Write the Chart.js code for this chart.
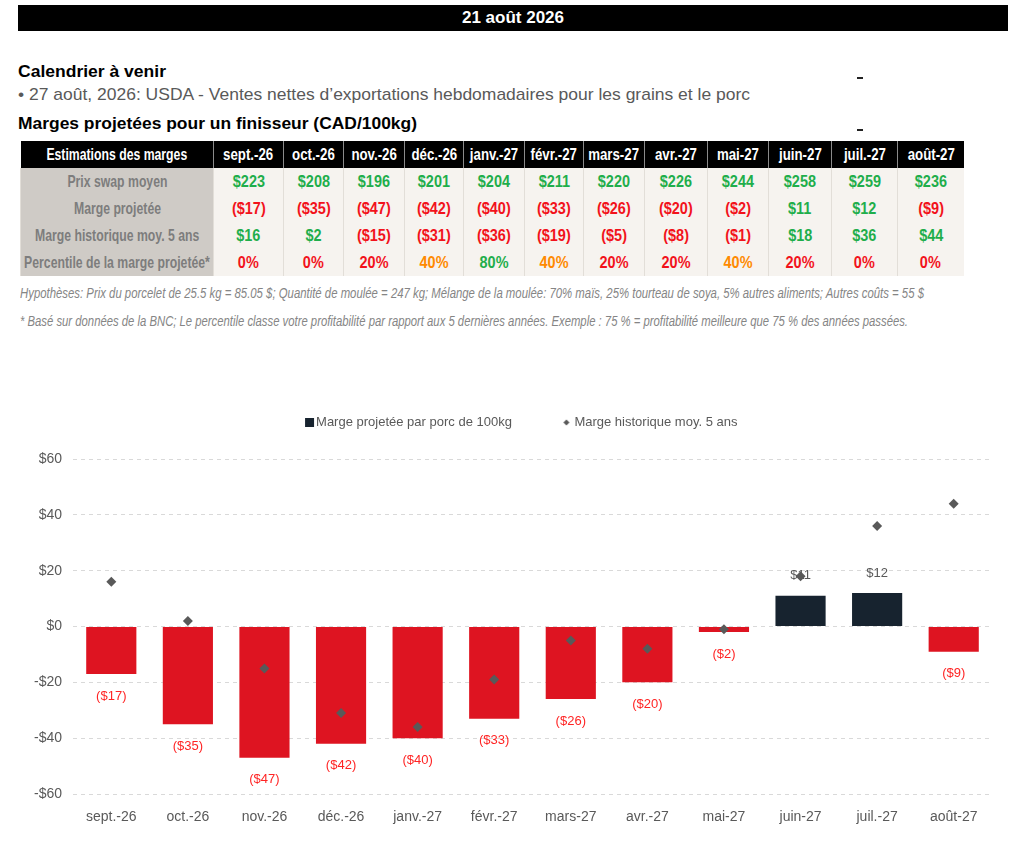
<!DOCTYPE html>
<html lang="fr">
<head>
<meta charset="utf-8">
<title>Marges projetées pour un finisseur</title>
<script src="https://cdn.jsdelivr.net/npm/chart.js@4.4.1/dist/chart.umd.min.js"></script>
<style>
  body { margin: 0; width: 1024px; height: 859px; position: relative; overflow: hidden; background: #fff;
         font-family: 'Liberation Sans', Arial, sans-serif; }
  .topbar { position: absolute; left: 18px; top: 5px; width: 990px; height: 26px; background: #000; color: #fff;
            font-weight: bold; font-size: 17px; line-height: 26px; text-align: center; }
  .line { position: absolute; left: 18px; white-space: nowrap; line-height: 20px; transform-origin: 0 50%; }
  .bold { font-weight: bold; font-size: 17px; color: #000; }
  .grey { font-size: 17px; color: #595959; }
  .dash { position: absolute; left: 857px; width: 6px; height: 1.5px; background: #222; }
  table { position: absolute; left: 20px; top: 141px; width: 943px; border-collapse: collapse; table-layout: fixed;
          font-weight: bold; font-size: 17px; }
  th { background: #000; color: #fff; height: 27px; padding: 0; border-left: 1px solid #8a8a8a; white-space: nowrap; }
  td { background: #f6f3ef; height: 27px; padding: 0; text-align: center; border-left: 1px solid #e2ded8; white-space: nowrap; }
  td.lab { background: #cfcbc6; color: #7d7d7d; }
  th span, td span { display: inline-block; margin: 0 -80px; transform: scaleX(0.85); }
  th.lab span, td.lab span { transform: scaleX(0.72); }
  th.m span { transform: scaleX(0.78); }
  .note { position: absolute; left: 20px; white-space: nowrap; font-style: italic; font-size: 14px; color: #858585;
          line-height: 18px; transform-origin: 0 50%; }
  #chartBox { position: absolute; left: 0; top: 366px; width: 1024px; height: 468px; }
</style>
</head>
<body>
<div class="topbar">21 août 2026</div>
<div class="line bold fit" data-w="148" style="top:62px">Calendrier à venir</div>
<div class="line grey fit" data-w="732" style="top:85px">• 27 août, 2026: USDA - Ventes nettes d’exportations hebdomadaires pour les grains et le porc</div>
<div class="line bold fit" data-w="399" style="top:114px">Marges projetées pour un finisseur (CAD/100kg)</div>
<div class="dash" style="top:77px"></div>
<div class="dash" style="top:129px"></div>

<table id="marginTable"></table>

<div class="note fit" data-w="904" style="top:284px">Hypothèses: Prix du porcelet de 25.5 kg = 85.05 $; Quantité de moulée = 247 kg; Mélange de la moulée: 70% maïs, 25% tourteau de soya, 5% autres aliments; Autres coûts = 55 $</div>
<div class="note fit" data-w="888" style="top:312px">* Basé sur données de la BNC; Le percentile classe votre profitabilité par rapport aux 5 dernières années. Exemple : 75 % = profitabilité meilleure que 75 % des années passées.</div>

<div id="chartBox"><canvas id="marginChart"></canvas></div>

<script>
// --- données ---
const months = ['sept.-26', 'oct.-26', 'nov.-26', 'déc.-26', 'janv.-27', 'févr.-27', 'mars-27', 'avr.-27', 'mai-27', 'juin-27', 'juil.-27', 'août-27'];
const swapPrices = [223, 208, 196, 201, 204, 211, 220, 226, 244, 258, 259, 236];
const projectedMargins = [-17, -35, -47, -42, -40, -33, -26, -20, -2, 11, 12, -9];
const historicMargins = [16, 2, -15, -31, -36, -19, -5, -8, -1, 18, 36, 44];
const percentiles = [0, 0, 20, 40, 80, 40, 20, 20, 40, 20, 0, 0];
const yTicks = [-60, -40, -20, 0, 20, 40, 60];

const GREEN = '#1fae4b';
const RED = '#f2121b';
const ORANGE = '#ff8a00';
const BAR_RED = '#de1421';
const BAR_NAVY = '#17232f';
const GREY = '#595959';

const money = v => v < 0 ? `($${-v})` : `$${v}`;
const moneyColor = v => v < 0 ? RED : GREEN;
const pctColor = p => p >= 60 ? GREEN : (p >= 40 ? ORANGE : RED);

// ajuste la largeur des lignes de texte à celle de l'original
document.querySelectorAll('.fit').forEach(el => {
    const w = el.getBoundingClientRect().width;
    el.style.transform = `scaleX(${+el.dataset.w / w})`;
});

// --- tableau ---
function buildTable() {
    const table = document.getElementById('marginTable');
    const widths = [193, 70, 60, 61, 59, 61, 59, 61, 63, 61, 63, 66, 66];
    let html = '<colgroup>' + widths.map(w => `<col style="width:${w}px">`).join('') + '</colgroup>';
    html += '<tr><th class="lab" style="border-left:none"><span>Estimations des marges</span></th>' +
        months.map(m => `<th class="m"><span>${m}</span></th>`).join('') + '</tr>';
    const rows = [
        { label: 'Prix swap moyen', values: swapPrices, fmt: money, color: moneyColor },
        { label: 'Marge projetée', values: projectedMargins, fmt: money, color: moneyColor },
        { label: 'Marge historique moy. 5 ans', values: historicMargins, fmt: money, color: moneyColor },
        { label: 'Percentile de la marge projetée*', values: percentiles, fmt: p => p + '%', color: pctColor }
    ];
    rows.forEach(r => {
        html += `<tr><td class="lab"><span>${r.label}</span></td>` +
            r.values.map(v => `<td style="color:${r.color(v)}"><span>${r.fmt(v)}</span></td>`).join('') + '</tr>';
    });
    table.innerHTML = html;
}
buildTable();

// --- graphique ---
Chart.defaults.font.family = "'Liberation Sans', Arial, sans-serif";
Chart.defaults.color = GREY;

// petites icônes de légende (carré marine, losange gris)
function legendIcon(kind) {
    const c = document.createElement('canvas');
    c.width = 20; c.height = 9;
    const g = c.getContext('2d');
    if (kind === 'square') {
        g.fillStyle = BAR_NAVY;
        g.fillRect(10, 0, 9, 9);
    } else {
        g.fillStyle = GREY;
        g.beginPath();
        g.moveTo(13, 1.5); g.lineTo(16, 4.5); g.lineTo(13, 7.5); g.lineTo(10, 4.5);
        g.closePath(); g.fill();
    }
    return c;
}
const squareIcon = legendIcon('square');
const diamondIcon = legendIcon('diamond');

// étiquettes des barres
const barLabels = {
    id: 'barLabels',
    afterDatasetDraw(chart, args) {
        if (args.index !== 0) return;
        const ctx = chart.ctx;
        ctx.save();
        ctx.font = "13px 'Liberation Sans', Arial, sans-serif";
        ctx.textAlign = 'center';
        ctx.textBaseline = 'middle';
        args.meta.data.forEach((bar, i) => {
            const v = projectedMargins[i];
            if (v < 0) {
                ctx.fillStyle = '#ff2424';
                ctx.fillText(money(v), bar.x, bar.y + 22);
            } else {
                ctx.fillStyle = GREY;
                ctx.fillText(money(v), bar.x, bar.y - 20);
            }
        });
        ctx.restore();
    }
};

// hauteur fixe et décalage de la légende
const legendBox = {
    id: 'legendBox',
    beforeInit(chart) {
        const fit = chart.legend.fit;
        chart.legend.fit = function () {
            fit.call(this);
            this.height = 93;
        };
    },
    afterLayout(chart) {
        chart.legend.left += 23;
        chart.legend.right += 23;
        chart.legend.top += 3;
        chart.legend.bottom += 3;
    }
};

new Chart(document.getElementById('marginChart'), {
    type: 'bar',
    data: {
        labels: months,
        datasets: [{
            label: 'Marge projetée par porc de 100kg',
            data: projectedMargins,
            backgroundColor: projectedMargins.map(v => v < 0 ? BAR_RED : BAR_NAVY),
            categoryPercentage: 1,
            barPercentage: 0.655,
            order: 1
        }, {
            type: 'line',
            label: 'Marge historique moy. 5 ans',
            data: historicMargins,
            showLine: false,
            pointStyle: 'rectRot',
            pointRadius: 5,
            pointHoverRadius: 5,
            backgroundColor: GREY,
            borderColor: GREY,
            borderWidth: 0,
            order: 0
        }]
    },
    options: {
        responsive: true,
        maintainAspectRatio: false,
        animation: false,
        events: [],
        layout: { padding: { left: 0, right: 32, top: 0, bottom: 0 } },
        plugins: {
            legend: {
                position: 'top',
                labels: {
                    usePointStyle: true,
                    boxWidth: 9,
                    boxHeight: 9,
                    padding: 47,
                    color: GREY,
                    font: { size: 13 },
                    generateLabels: () => [
                        { text: 'Marge projetée par porc de 100kg', pointStyle: squareIcon, datasetIndex: 0, fontColor: GREY, lineWidth: 0 },
                        { text: 'Marge historique moy. 5 ans', pointStyle: diamondIcon, datasetIndex: 1, fontColor: GREY, lineWidth: 0 }
                    ]
                }
            },
            tooltip: { enabled: false }
        },
        scales: {
            x: {
                grid: { display: false, drawTicks: false },
                border: { display: false },
                ticks: { color: GREY, font: { size: 14 }, padding: 15, maxRotation: 0 },
                afterFit: s => { s.height = 40; }
            },
            y: {
                min: -60,
                max: 60,
                afterBuildTicks: s => { s.ticks = yTicks.map(v => ({ value: v })); },
                grid: { color: '#d9d9d9', lineWidth: 1, drawTicks: false },
                border: { display: false, dash: [4, 4] },
                ticks: {
                    color: GREY,
                    font: { size: 14 },
                    padding: 11,
                    callback: v => (v < 0 ? '-$' : '$') + Math.abs(v)
                },
                afterFit: s => { s.width = 73; }
            }
        }
    },
    plugins: [barLabels, legendBox]
});
</script>
</body>
</html>
